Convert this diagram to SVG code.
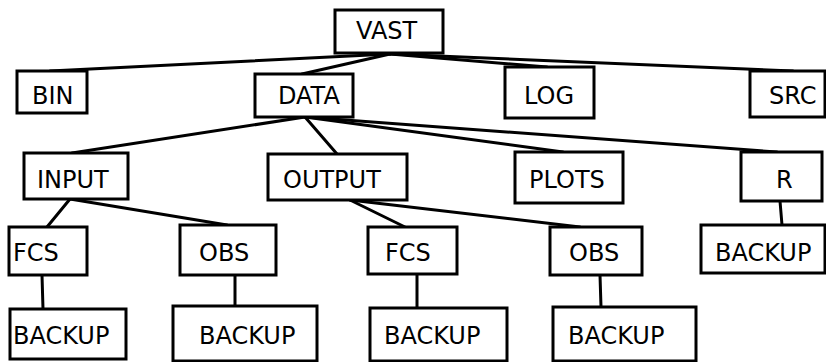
<svg xmlns="http://www.w3.org/2000/svg" width="826" height="362" viewBox="0 0 826 362">
  <style>
    .box rect { fill: #ffffff; stroke: #000000; stroke-width: 3; }
    .box text { font-family: "DejaVu Sans", "Liberation Sans", sans-serif; font-size: 24px; fill: #000000; }
    #edges line { stroke: #000000; stroke-width: 3; stroke-linecap: round; }
  </style>
  <rect width="826" height="362" fill="#ffffff"/>

  <!-- tree connectors -->
  <g id="edges">
    <line x1="390" y1="54" x2="50" y2="71"/>
    <line x1="390" y1="54" x2="302" y2="74"/>
    <line x1="390" y1="54" x2="547" y2="67"/>
    <line x1="390" y1="54" x2="793" y2="71"/>
    <line x1="305" y1="117" x2="72" y2="153"/>
    <line x1="305" y1="117" x2="337" y2="154"/>
    <line x1="305" y1="117" x2="563" y2="152"/>
    <line x1="305" y1="117" x2="777" y2="152"/>
    <line x1="70" y1="199" x2="47" y2="227"/>
    <line x1="70" y1="199" x2="227" y2="225"/>
    <line x1="350" y1="200" x2="405" y2="227"/>
    <line x1="350" y1="200" x2="580" y2="227"/>
    <line x1="780" y1="201" x2="782" y2="225"/>
    <line x1="42" y1="275" x2="43" y2="309"/>
    <line x1="235" y1="275" x2="235" y2="306"/>
    <line x1="417" y1="274" x2="417" y2="308"/>
    <line x1="600" y1="275" x2="601" y2="307"/>
  </g>

  <!-- level 0 -->
  <g id="vast" class="box"><rect x="335" y="10" width="108" height="43"/><text x="356" y="39">VAST</text></g>

  <!-- level 1 -->
  <g id="bin" class="box"><rect x="17" y="71" width="70" height="42"/><text x="32" y="104">BIN</text></g>
  <g id="data" class="box"><rect x="255" y="74" width="98" height="43"/><text x="278" y="104">DATA</text></g>
  <g id="log" class="box"><rect x="505" y="67" width="89" height="51"/><text x="524" y="104">LOG</text></g>
  <g id="src" class="box"><rect x="750" y="71" width="75" height="46"/><text x="769" y="104">SRC</text></g>

  <!-- level 2 -->
  <g id="input" class="box"><rect x="24" y="153" width="104" height="46"/><text x="37" y="188">INPUT</text></g>
  <g id="output" class="box"><rect x="268" y="154" width="139" height="46"/><text x="283" y="188">OUTPUT</text></g>
  <g id="plots" class="box"><rect x="515" y="152" width="108" height="51"/><text x="529" y="188">PLOTS</text></g>
  <g id="r" class="box"><rect x="741" y="152" width="81" height="49"/><text x="776" y="188">R</text></g>

  <!-- level 3 -->
  <g id="input-fcs" class="box"><rect x="9" y="227" width="78" height="48"/><text x="13" y="261">FCS</text></g>
  <g id="input-obs" class="box"><rect x="180" y="225" width="96" height="50"/><text x="199" y="261">OBS</text></g>
  <g id="output-fcs" class="box"><rect x="368" y="227" width="89" height="47"/><text x="385" y="261">FCS</text></g>
  <g id="output-obs" class="box"><rect x="550" y="227" width="92" height="48"/><text x="569" y="261">OBS</text></g>
  <g id="r-backup" class="box"><rect x="701" y="225" width="124" height="48"/><text x="715" y="261">BACKUP</text></g>

  <!-- level 4 -->
  <g id="input-fcs-backup" class="box"><rect x="10" y="309" width="116" height="50"/><text x="13" y="344">BACKUP</text></g>
  <g id="input-obs-backup" class="box"><rect x="173" y="306" width="144" height="55"/><text x="199" y="344">BACKUP</text></g>
  <g id="output-fcs-backup" class="box"><rect x="370" y="308" width="137" height="53"/><text x="384" y="344">BACKUP</text></g>
  <g id="output-obs-backup" class="box"><rect x="553" y="307" width="143" height="54"/><text x="568" y="344">BACKUP</text></g>
</svg>
